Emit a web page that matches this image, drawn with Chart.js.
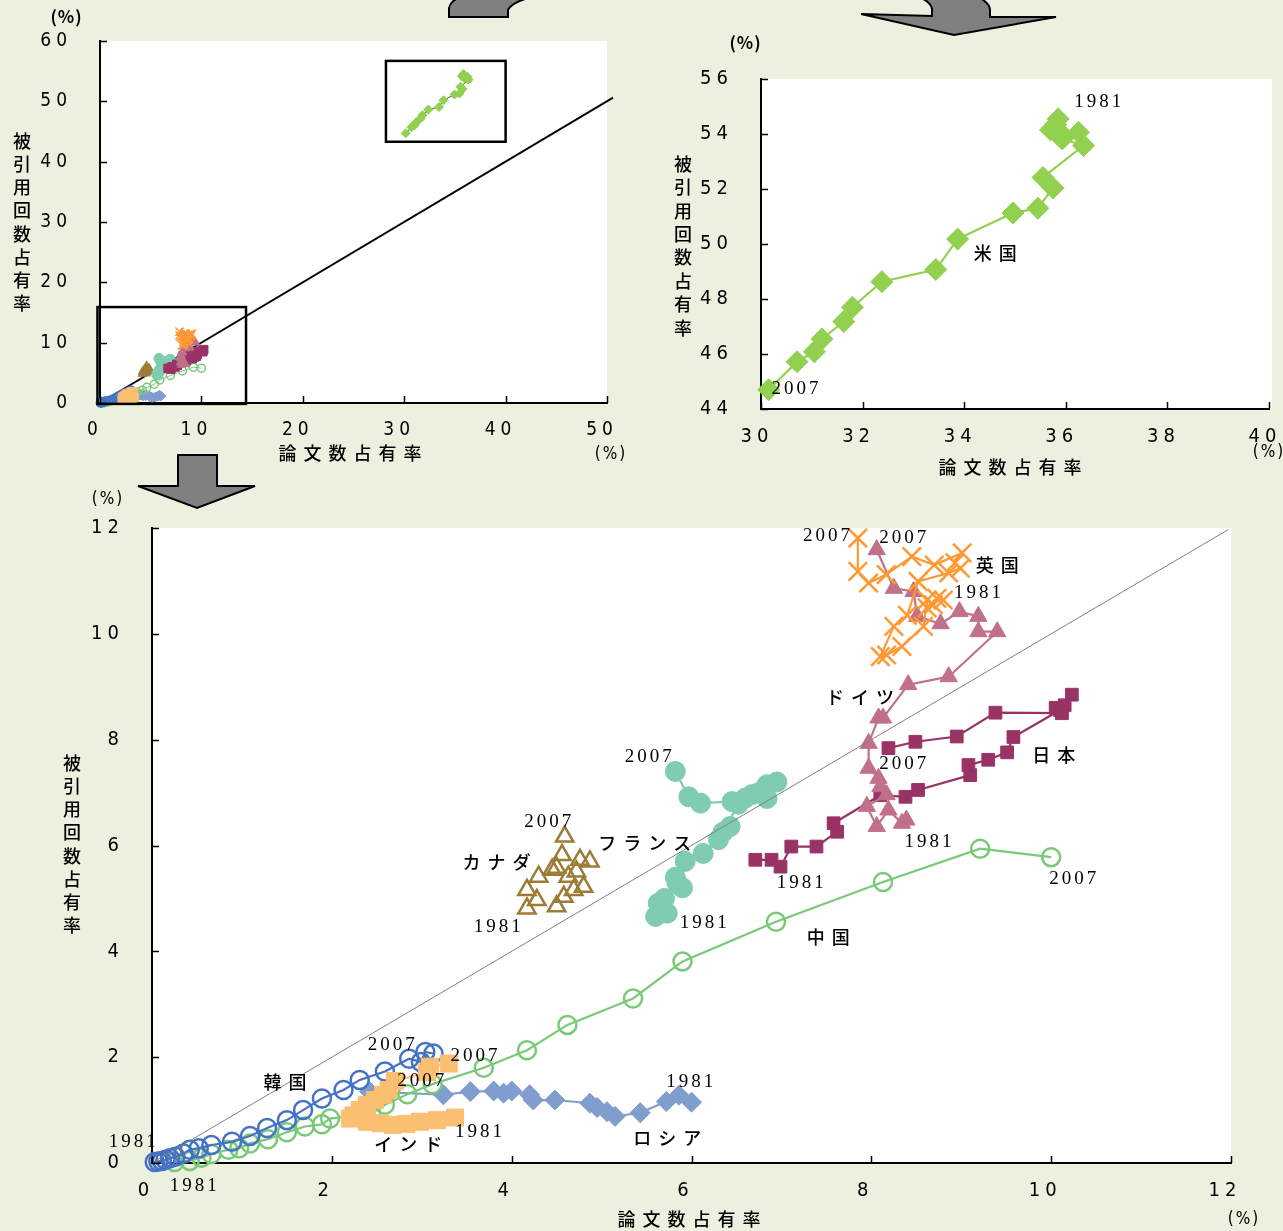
<!DOCTYPE html>
<html>
<head>
<meta charset="utf-8">
<script src="https://cdn.jsdelivr.net/npm/chart.js@4/dist/chart.umd.min.js"></script>
<style>
  html, body { margin: 0; padding: 0; background: #ebf1de; overflow: hidden; }
  #page { position: relative; width: 1283px; height: 1231px; background: #ebf1de; overflow: hidden; }
  #page canvas { position: absolute; }
  #arrows { position: absolute; left: 0; top: 0; }
</style>
</head>
<body>
<div id="page">
  <canvas id="overview" width="640" height="480" style="left:0;top:0"></canvas>
  <canvas id="usa" width="660" height="480" style="left:640px;top:0"></canvas>
  <canvas id="detail" width="1283" height="751" style="left:0;top:480px"></canvas>
  <svg id="arrows" width="1283" height="1231">
    <g fill="#808080" stroke="#000" stroke-width="2" stroke-linejoin="miter">
      <path d="M449,17 L449,8 Q451,-1 463,-3 L532,-3 Q512,2 508,10 L508,17 Z"/>
      <path d="M861,14 L932,16 L932,9 Q931,2 919,-3 L978,-3 Q990,3 990,10 L990,17 L1056,17 L954,35 Z"/>
      <path d="M178,455 L217,455 L217,486 L255,486 L197,508 L138,486 L178,486 Z"/>
    </g>
  </svg>
</div>
<script>
// ---- share of papers (x, %) and share of citations (y, %), 1981 -> 2007 ----
const usPapers      = [35.85, 35.80, 35.70, 35.95, 36.25, 35.93, 36.35, 35.55, 35.75, 35.45, 34.96, 33.87, 33.44, 32.38, 31.80, 31.63, 31.20, 31.05, 30.71, 30.15];
const usCites       = [54.55, 54.35, 54.15, 53.95, 54.06, 53.82, 53.58, 52.42, 52.04, 51.30, 51.13, 50.18, 49.07, 48.63, 47.70, 47.18, 46.55, 46.08, 45.72, 44.70];

const ukPapers      = [8.80, 8.73, 8.69, 8.62, 8.62, 8.58, 8.34, 8.17, 8.10, 8.25, 8.40, 8.52, 8.86, 8.99, 8.93, 9.01, 8.70, 8.45, 8.165, 7.97, 7.85, 7.85];
const ukCites       = [10.64, 10.67, 10.55, 10.49, 10.64, 10.14, 9.76, 9.60, 9.57, 10.14, 10.35, 10.99, 11.15, 11.24, 11.34, 11.53, 11.30, 11.46, 11.12, 10.96, 11.18, 11.81];

const germanyPapers = [8.39, 8.34, 8.19, 8.06, 7.95, 8.17, 8.10, 8.08, 7.97, 7.97, 8.08, 8.13, 8.41, 8.86, 9.40, 9.19, 9.19, 8.98, 8.77, 8.51, 8.47, 8.25, 8.06];
const germanyCites  = [6.48, 6.42, 6.67, 6.36, 6.74, 6.96, 7.11, 7.27, 7.46, 7.93, 8.41, 8.41, 9.04, 9.19, 10.04, 10.04, 10.33, 10.42, 10.19, 10.33, 10.80, 10.86, 11.59];

const japanPapers   = [6.71, 6.89, 6.99, 7.11, 7.39, 7.62, 7.58, 8.10, 8.38, 8.52, 9.10, 9.08, 9.30, 9.51, 9.58, 10.10, 10.23, 10.15, 10.05, 10.12, 9.38, 8.95, 8.49, 8.19];
const japanCites    = [5.73, 5.73, 5.60, 5.98, 5.98, 6.26, 6.42, 6.95, 6.92, 7.05, 7.33, 7.52, 7.62, 7.76, 8.05, 8.56, 8.85, 8.65, 8.60, 8.50, 8.51, 8.06, 7.96, 7.84];

const francePapers  = [5.73, 5.60, 5.63, 5.70, 5.84, 5.90, 5.82, 5.93, 6.13, 6.30, 6.43, 6.35, 6.52, 6.60, 6.75, 6.84, 6.95, 6.84, 6.67, 6.45, 6.10, 5.97, 5.82];
const franceCites   = [4.72, 4.66, 4.91, 5.00, 5.29, 5.20, 5.40, 5.70, 5.85, 6.11, 6.36, 6.25, 6.78, 6.90, 7.00, 7.15, 7.20, 6.89, 6.96, 6.83, 6.80, 6.92, 7.40];

const canadaPapers  = [4.17, 4.28, 4.17, 4.30, 4.50, 4.58, 4.69, 4.80, 4.63, 4.72, 4.87, 4.76, 4.50, 4.45, 4.56, 4.59];
const canadaCites   = [4.81, 4.97, 5.16, 5.41, 4.85, 5.03, 5.16, 5.22, 5.41, 5.51, 5.70, 5.73, 5.58, 5.54, 5.82, 6.17];

const koreaPapers   = [0.03, 0.07, 0.11, 0.15, 0.20, 0.26, 0.35, 0.42, 0.52, 0.66, 0.89, 1.09, 1.28, 1.50, 1.68, 1.89, 2.13, 2.31, 2.59, 2.86, 2.99, 3.04, 3.13];
const koreaCites    = [0.02, 0.03, 0.04, 0.06, 0.09, 0.12, 0.18, 0.25, 0.28, 0.34, 0.40, 0.51, 0.66, 0.81, 1.00, 1.22, 1.38, 1.57, 1.73, 1.97, 1.91, 2.10, 2.07];

const chinaPapers   = [0.25, 0.42, 0.55, 0.66, 0.85, 0.97, 1.09, 1.29, 1.50, 1.70, 1.89, 1.98, 2.44, 2.59, 2.84, 3.12, 3.69, 4.17, 4.62, 5.35, 5.90, 6.94, 8.13, 9.21, 10.00];
const chinaCites    = [0.02, 0.04, 0.10, 0.17, 0.25, 0.28, 0.37, 0.45, 0.58, 0.69, 0.73, 0.84, 0.94, 1.10, 1.30, 1.49, 1.80, 2.13, 2.61, 3.11, 3.81, 4.56, 5.31, 5.94, 5.78];

const indiaPapers   = [3.37, 3.17, 2.98, 2.83, 2.68, 2.54, 2.39, 2.20, 2.24, 2.31, 2.39, 2.48, 2.57, 2.63, 2.70, 3.06, 3.09, 3.30];
const indiaCites    = [0.86, 0.81, 0.78, 0.74, 0.72, 0.75, 0.78, 0.84, 0.90, 1.00, 1.10, 1.19, 1.29, 1.38, 1.55, 1.72, 1.82, 1.88];

const russiaPapers  = [6.00, 5.86, 5.72, 5.43, 5.15, 5.06, 4.95, 4.87, 4.48, 4.24, 4.20, 4.00, 3.91, 3.80, 3.54, 3.24, 2.42];
const russiaCites   = [1.15, 1.28, 1.16, 0.95, 0.88, 0.97, 1.05, 1.13, 1.19, 1.19, 1.29, 1.36, 1.32, 1.36, 1.35, 1.29, 1.35];

// equal-share reference line (citations share = papers share)
const parityOverview = [0, 50.6];
const parityDetail   = [0, 11.97];

// axis ranges and tick steps
const overviewTicks = { xMin: 0, xMax: 50, xStep: 10, yMin: 0, yMax: 60, yStep: 10 };
const usaTicks      = { xMin: 30, xMax: 40, xStep: 2, yMin: 44, yMax: 56, yStep: 2 };
const detailTicks   = { xMin: 0, xMax: 12, xStep: 2, yMin: 0, yMax: 12, yStep: 2 };

const pts = (xs, ys) => xs.map((x, i) => ({ x, y: ys[i] }));

// ---- fonts ----
const TICK_FONT = "'Liberation Sans Narrow','DejaVu Sans Condensed','Roboto Condensed','Liberation Sans',sans-serif";
const JP_FONT   = "'Noto Sans CJK JP','Noto Sans CJK SC',sans-serif";
const YEAR_FONT = "'Liberation Serif','DejaVu Serif',serif";

// ---- series appearance ----
const countries = [
  { name: 'uk',      papers: ukPapers,      cites: ukCites,      color: '#ff9933', shape: 'crossRot', hollow: true,  r: 13, rs: 6, line: true,  order: 1 },
  { name: 'germany', papers: germanyPapers, cites: germanyCites, color: '#c07189', shape: 'triangle', hollow: false, r: 10, rs: 5, line: true,  order: 2 },
  { name: 'japan',   papers: japanPapers,   cites: japanCites,   color: '#993366', shape: 'rect',     hollow: false, r: 9,  rs: 6, line: true,  order: 3 },
  { name: 'france',  papers: francePapers,  cites: franceCites,  color: '#80ccb1', shape: 'circle',   hollow: false, r: 10, rs: 5, line: true,  order: 4 },
  { name: 'canada',  papers: canadaPapers,  cites: canadaCites,  color: '#9c7c34', shape: 'triangle', hollow: true,  r: 10, rs: 4, line: false, order: 5 },
  { name: 'india',   papers: indiaPapers,   cites: indiaCites,   color: '#fbbf72', shape: 'rect',     hollow: false, r: 12, rs: 6, line: true,  order: 6 },
  { name: 'korea',   papers: koreaPapers,   cites: koreaCites,   color: '#4472c4', shape: 'circle',   hollow: true,  r: 9,  rs: 4, line: true,  order: 7 },
  { name: 'china',   papers: chinaPapers,   cites: chinaCites,   color: '#79c979', shape: 'circle',   hollow: true,  r: 9,  rs: 4, line: true,  order: 8 },
  { name: 'russia',  papers: russiaPapers,  cites: russiaCites,  color: '#7f9ecd', shape: 'rectRot',  hollow: false, r: 10, rs: 5, line: true,  order: 9 },
];

function seriesDataset(c, big) {
  return {
    data: pts(c.papers, c.cites),
    showLine: c.line,
    borderColor: c.color,
    borderWidth: big ? 2.2 : 1,
    backgroundColor: c.hollow ? 'rgba(0,0,0,0)' : c.color,
    pointStyle: c.shape,
    pointRadius: big ? c.r : c.rs,
    pointBorderColor: c.color,
    pointBackgroundColor: c.hollow ? 'rgba(0,0,0,0)' : c.color,
    pointBorderWidth: c.hollow ? (big ? 2.5 : 1.5) : 1,
    order: c.order,
    clip: false,
  };
}

function usDataset(big) {
  return {
    data: pts(usPapers, usCites),
    showLine: true,
    borderColor: big ? '#92d050' : '#4d5a3a',
    borderWidth: big ? 2.2 : 1,
    pointStyle: 'rectRot',
    pointRadius: big ? 11 : 4.5,
    pointBackgroundColor: '#92d050',
    pointBorderColor: '#92d050',
    pointBorderWidth: 1,
    order: 0,
    clip: false,
  };
}

function parityDataset(ends, color, width, order) {
  return {
    data: pts(ends, ends),
    showLine: true,
    borderColor: color,
    borderWidth: width,
    pointRadius: 0,
    order,
    clip: false,
  };
}

// ---- plugins ----
const plotBackground = {
  id: 'plotBackground',
  beforeDraw(chart, args, opts) {
    const { ctx, chartArea: a } = chart;
    ctx.save();
    ctx.fillStyle = '#ffffff';
    ctx.fillRect(a.left, a.top, a.right - a.left + (opts.extraRight || 0), a.bottom - a.top);
    ctx.restore();
    chart.ctx.letterSpacing = opts.tickSpacing || '0px';
  }
};

const innerTicks = {
  id: 'innerTicks',
  afterDraw(chart) {
    const { ctx, chartArea: a, scales: { x, y } } = chart;
    ctx.save();
    ctx.strokeStyle = '#000';
    ctx.lineWidth = 1.5;
    ctx.beginPath();
    x.ticks.forEach(t => {
      const px = Math.round(x.getPixelForValue(t.value)) + 0.5;
      ctx.moveTo(px, a.bottom); ctx.lineTo(px, a.bottom - 7);
    });
    y.ticks.forEach(t => {
      const py = Math.round(y.getPixelForValue(t.value)) + 0.5;
      ctx.moveTo(a.left, py); ctx.lineTo(a.left + 7, py);
    });
    ctx.stroke();
    ctx.restore();
  }
};

const boxes = {
  id: 'boxes',
  afterDatasetsDraw(chart, args, opts) {
    const { ctx, scales: { x, y } } = chart;
    (opts.items || []).forEach(b => {
      const x0 = x.getPixelForValue(b.x0), x1 = x.getPixelForValue(b.x1);
      const y0 = y.getPixelForValue(b.y0), y1 = y.getPixelForValue(b.y1);
      ctx.save();
      ctx.strokeStyle = '#000';
      ctx.lineWidth = 2.5;
      ctx.strokeRect(x0, y1, x1 - x0, y0 - y1);
      ctx.restore();
    });
  }
};

const STYLES = {
  year:  { font: `19px ${YEAR_FONT}`, spacing: 3 },
  name:  { font: `500 18px ${JP_FONT}`, spacing: 7 },
  title: { font: `500 18px ${JP_FONT}`, spacing: 7 },
  vtitle:{ font: `500 18px ${JP_FONT}`, spacing: 0 },
  pct:   { font: `17px ${TICK_FONT}`, spacing: 2 },
  pctb:  { font: `bold 17px ${JP_FONT}`, spacing: 1 },
};

const texts = {
  id: 'texts',
  afterDraw(chart, args, opts) {
    const { ctx, scales: { x, y } } = chart;
    (opts.items || []).forEach(it => {
      const st = STYLES[it.k];
      ctx.save();
      ctx.font = st.font;
      ctx.fillStyle = '#000';
      ctx.letterSpacing = st.spacing + 'px';
      ctx.textAlign = 'center';
      ctx.textBaseline = 'middle';
      let px = it.data ? x.getPixelForValue(it.x) : it.x;
      let py = it.data ? y.getPixelForValue(it.y) : it.y;
      px += st.spacing / 2;
      if (it.pitch) {
        [...it.t].forEach((ch, i) => ctx.fillText(ch, px, py + i * it.pitch));
      } else {
        ctx.fillText(it.t, px, py);
      }
      ctx.restore();
    });
  }
};

Chart.register(plotBackground, innerTicks, boxes, texts);

function axes(t, yWidth, xHeight, fontSize, labelOffset) {
  const tickFont = { family: TICK_FONT, size: fontSize };
  return {
    x: {
      type: 'linear', min: t.xMin, max: t.xMax,
      grid: { display: false, drawTicks: false },
      border: { display: true, color: '#000', width: 2 },
      ticks: { stepSize: t.xStep, color: '#000', font: tickFont, padding: 16, labelOffset, maxRotation: 0, autoSkip: false },
      afterFit(s) { s.height = xHeight; }
    },
    y: {
      type: 'linear', min: t.yMin, max: t.yMax,
      grid: { display: false, drawTicks: false },
      border: { display: true, color: '#000', width: 2 },
      ticks: { stepSize: t.yStep, color: '#000', font: tickFont, padding: 28 },
      afterFit(s) { s.width = yWidth; }
    }
  };
}

const common = {
  responsive: false,
  animation: false,
  events: [],
  plugins: { legend: { display: false }, tooltip: { enabled: false } },
};

const Y_TITLE = '被引用回数占有率';
const X_TITLE = '論文数占有率';

// ---- overview: all countries, 0-50 / 0-60 ----
new Chart(document.getElementById('overview'), {
  type: 'scatter',
  data: {
    datasets: [
      usDataset(false),
      ...countries.map(c => seriesDataset(c, false)),
      parityDataset(parityOverview, '#000', 2, 20),
    ]
  },
  options: {
    ...common,
    layout: { padding: { top: 41, right: 33, left: 0, bottom: 0 } },
    scales: axes(overviewTicks, 100, 77, 19, -5),
    plugins: {
      ...common.plugins,
      plotBackground: { tickSpacing: '5px' },
      boxes: { items: [ { x0: -0.25, x1: 14.4, y0: -0.15, y1: 15.9 }, { x0: 28.2, x1: 40.0, y0: 43.3, y1: 56.7 } ] },
      texts: { items: [
        { t: '(%)', x: 66, y: 17, k: 'pctb' },
        { t: Y_TITLE, x: 22, y: 141, pitch: 23.2, k: 'vtitle' },
        { t: X_TITLE, x: 350, y: 453, k: 'title' },
        { t: '(%)', x: 610, y: 455, k: 'pct' },
      ] }
    }
  }
});

// ---- United States close-up: 30-40 / 44-56 ----
new Chart(document.getElementById('usa'), {
  type: 'scatter',
  data: { datasets: [ usDataset(true) ] },
  options: {
    ...common,
    layout: { padding: { top: 79, right: 31, left: 0, bottom: 0 } },
    scales: axes(usaTicks, 121, 71, 20, -4),
    plugins: {
      ...common.plugins,
      plotBackground: { tickSpacing: '5px', extraRight: 3 },
      texts: { items: [
        { t: '(%)', x: 105, y: 43, k: 'pctb' },
        { t: Y_TITLE, x: 43, y: 164, pitch: 23.4, k: 'vtitle' },
        { t: X_TITLE, x: 370, y: 467, k: 'title' },
        { t: '(%)', x: 628, y: 453, k: 'pct' },
        { t: '1981', x: 36.63, y: 55.16, k: 'year', data: true },
        { t: '米国',  x: 34.61, y: 49.67, k: 'name', data: true },
        { t: '2007', x: 30.67, y: 44.73, k: 'year', data: true },
      ] }
    }
  }
});

// ---- close-up of the other countries: 0-12 / 0-12 ----
const detailLabels = [
  { t: '英国',   x: 9.40,  y: 11.29, k: 'name' },
  { t: '1981',   x: 9.18,  y: 10.78, k: 'year' },
  { t: '2007',   x: 7.50,  y: 11.85, k: 'year' },
  { t: '2007',   x: 8.35,  y: 11.81, k: 'year' },
  { t: 'ドイツ', x: 7.875, y: 8.81,  k: 'name' },
  { t: '日本',   x: 10.03, y: 7.71,  k: 'name' },
  { t: '2007',   x: 8.35,  y: 7.54,  k: 'year' },
  { t: '1981',   x: 8.63,  y: 6.07,  k: 'year' },
  { t: '1981',   x: 7.21,  y: 5.29,  k: 'year' },
  { t: '2007',   x: 5.52,  y: 7.67,  k: 'year' },
  { t: 'フランス', x: 5.48, y: 6.05, k: 'name' },
  { t: '1981',   x: 6.13,  y: 4.54,  k: 'year' },
  { t: '2007',   x: 4.40,  y: 6.45,  k: 'year' },
  { t: 'カナダ', x: 3.83,  y: 5.69,  k: 'name' },
  { t: '1981',   x: 3.84,  y: 4.46,  k: 'year' },
  { t: '2007',   x: 10.24, y: 5.37,  k: 'year' },
  { t: '中国',   x: 7.52,  y: 4.27,  k: 'name' },
  { t: '韓国',   x: 1.48,  y: 1.53,  k: 'name' },
  { t: '2007',   x: 2.66,  y: 2.23,  k: 'year' },
  { t: '2007',   x: 3.58,  y: 2.02,  k: 'year' },
  { t: '2007',   x: 2.99,  y: 1.55,  k: 'year' },
  { t: '1981',   x: 5.98,  y: 1.53,  k: 'year' },
  { t: '1981',   x: 3.63,  y: 0.59,  k: 'year' },
  { t: 'インド', x: 2.85,  y: 0.36,  k: 'name' },
  { t: 'ロシア', x: 5.73,  y: 0.47,  k: 'name' },
  { t: '1981',   x: -0.22, y: 0.40,  k: 'year' },
  { t: '1981',   x: 0.46,  y: -0.43, k: 'year' },
].map(l => ({ ...l, data: true }));

new Chart(document.getElementById('detail'), {
  type: 'scatter',
  data: {
    datasets: [
      ...countries.map(c => seriesDataset(c, true)),
      parityDataset(parityDetail, '#808080', 1, 0),
    ]
  },
  options: {
    ...common,
    layout: { padding: { top: 48, right: 52, left: 0, bottom: 0 } },
    scales: axes(detailTicks, 152, 68, 20, -6),
    plugins: {
      ...common.plugins,
      plotBackground: { tickSpacing: '5px' },
      texts: { items: [
        { t: '(%)', x: 107, y: 20, k: 'pct' },
        { t: Y_TITLE, x: 72, y: 283, pitch: 23.2, k: 'vtitle' },
        { t: X_TITLE, x: 689, y: 739, k: 'title' },
        { t: '(%)', x: 1243, y: 740, k: 'pct' },
        ...detailLabels,
      ] }
    }
  }
});
</script>
</body>
</html>
